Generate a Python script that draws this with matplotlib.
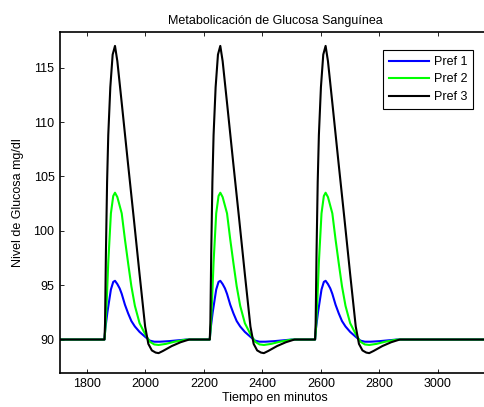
import numpy as np
import matplotlib
matplotlib.use('Agg')
import matplotlib.pyplot as plt

plt.rcParams['font.family'] = ['Liberation Sans', 'DejaVu Sans']

# inicio de cada comida (minutos)
meal_starts = [1860, 2220, 2580]

# perfil de una respuesta: tiempo relativo (min) y glucosa (mg/dl)
t_pref1 = [0, 3, 10, 22, 30, 36, 44, 52, 59, 70, 81, 92, 104, 120, 139, 155, 170, 190, 220, 260, 280, 360]
g_pref1 = [90, 91, 92.5, 94.6, 95.3, 95.4, 95.1, 94.7, 94.2, 93.2, 92.4, 91.7, 91.2, 90.7, 90.25, 89.9, 89.8, 89.8, 89.85, 89.95, 90, 90]

t_pref2 = [0, 3, 8, 13, 22, 30, 36, 44, 59, 70, 81, 92, 104, 120, 139, 155, 170, 185, 210, 240, 270, 285, 360]
g_pref2 = [90, 91, 93.7, 97.1, 101.6, 103.2, 103.5, 103.1, 101.6, 99.2, 97.0, 94.9, 93.1, 91.5, 90.5, 89.8, 89.55, 89.5, 89.6, 89.8, 89.95, 90, 90]

t_pref3 = [0, 2, 5, 9, 13, 20, 28, 36, 44, 60, 80, 100, 120, 139, 150, 162, 175, 185, 200, 230, 260, 280, 290, 360]
g_pref3 = [90, 91.5, 98, 104.5, 108.8, 113.2, 116.2, 117, 115.6, 111.5, 106.3, 101.2, 96, 91.2, 89.6, 89.0, 88.8, 88.75, 88.95, 89.4, 89.75, 89.92, 90, 90]

t_begin = 1600
t_end = 3300

series = [('Pref 1', t_pref1, g_pref1, '#0000ff'),
          ('Pref 2', t_pref2, g_pref2, '#00ff00'),
          ('Pref 3', t_pref3, g_pref3, '#000000')]

fig = plt.figure(figsize=(4.85, 4.07), dpi=100)
ax = fig.add_axes([60/485, 34.3/407, 430/485, 340.4/407])

for name, tr, gr, col in series:
    tt = [t_begin]
    gg = [90]
    for s in meal_starts:
        tt += [s + v for v in tr]
        gg += gr
    tt.append(t_end)
    gg.append(90)
    ax.plot(tt, gg, color=col, lw=1.5, label=name)

ax.set_xlim(1708, 3178)
ax.set_ylim(86.95, 118.25)
ax.set_xticks([1800, 2000, 2200, 2400, 2600, 2800, 3000])
ax.set_yticks([90, 95, 100, 105, 110, 115])
ax.tick_params(direction='in', top=True, right=True, labelsize=9, length=3, width=0.6, pad=4)
for sp in ax.spines.values():
    sp.set_linewidth(1.2)

ax.set_title('Metabolicación de Glucosa Sanguínea', fontsize=9, pad=6)
ax.set_xlabel('Tiempo en minutos', fontsize=9, labelpad=1)
ax.set_ylabel('Nivel de Glucosa mg/dl', fontsize=9, labelpad=7)

leg = ax.legend(loc='upper right', bbox_to_anchor=(479/485, 1 - 44/407),
                bbox_transform=fig.transFigure, fontsize=9, fancybox=False,
                framealpha=1, edgecolor='black', handlelength=3.2,
                borderpad=0.45, labelspacing=0.45, handletextpad=0.4)
leg.get_frame().set_linewidth(0.8)

fig.savefig('out.png', dpi=100)
